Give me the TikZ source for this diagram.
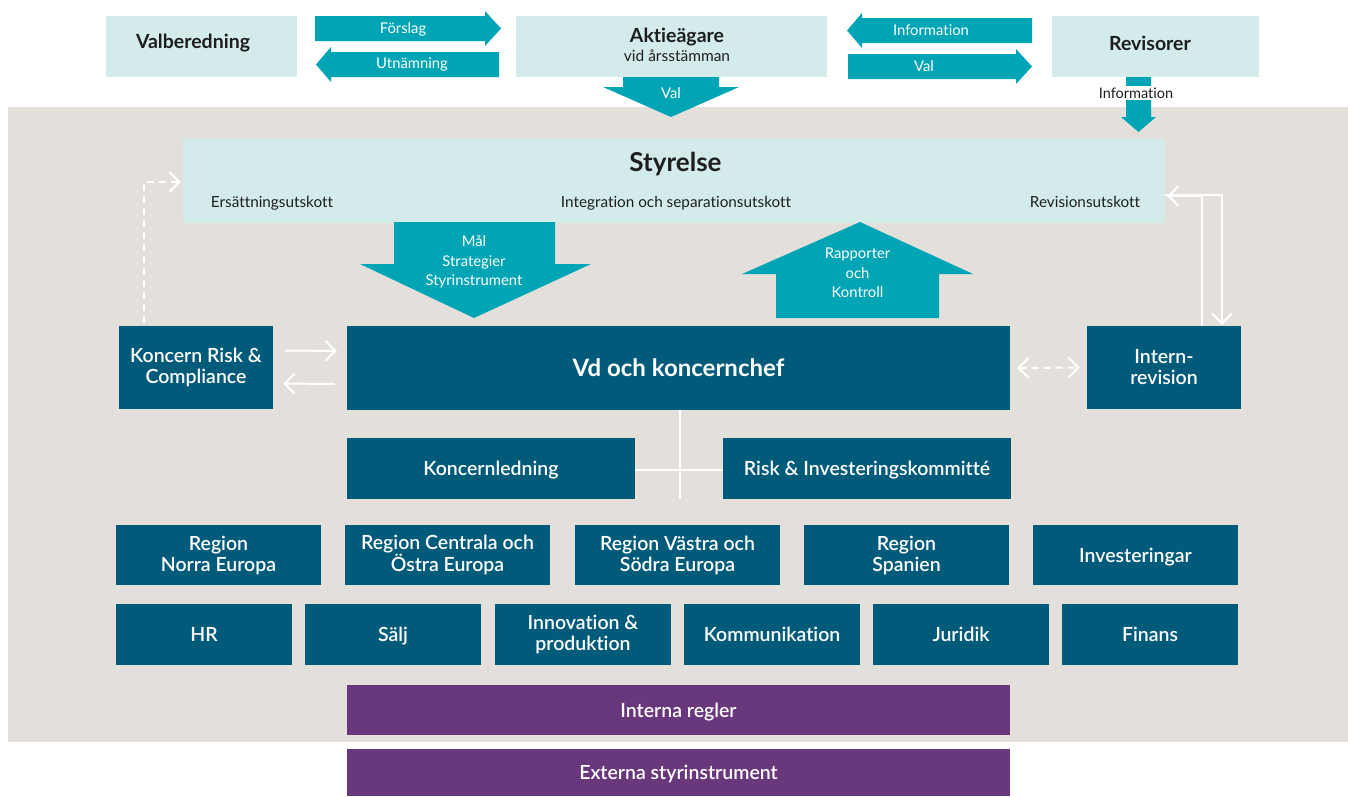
\documentclass[tikz,border=0pt]{standalone}
\usepackage{fontspec}
\setmainfont{Lato}[Ligatures=NoCommon]
\newfontfamily\semib{Lato Semibold}[Ligatures=NoCommon]
\usetikzlibrary{arrows.meta,calc}

\definecolor{paleteal}{HTML}{D4EBEC}
\definecolor{arrowteal}{HTML}{00A5B5}
\definecolor{deepblue}{HTML}{005B7B}
\definecolor{plum}{HTML}{69387C}
\definecolor{stone}{HTML}{E3E0DC}
\definecolor{ink}{HTML}{1E1E1E}

\begin{document}
\begin{tikzpicture}[x=1pt,y=-1pt,
  sz/.style 2 args={minimum width=#1pt, minimum height=#2pt},
  palebox/.style={fill=paleteal, inner sep=0pt},
  darkbox/.style={fill=deepblue, inner sep=0pt, text=white, align=center,
    font=\semib\fontsize{19.5}{21}\selectfont},
  plumbox/.style={fill=plum, inner sep=0pt, text=white,
    font=\semib\fontsize{19.5}{21}\selectfont, text height=14pt, text depth=0pt},
  capline/.style={text height=14pt, text depth=0pt},
  headtext/.style={text=ink, anchor=base, font=\bfseries\fontsize{19.5}{22}\selectfont},
  subtext/.style={text=ink, anchor=base, font=\fontsize{15.3}{18}\selectfont},
  arrowtext/.style={text=white, align=center, inner sep=0pt,
    font=\fontsize{14.8}{19.5}\selectfont},
  blockarrow/.style={fill=arrowteal},
  wline/.style={draw=white, line width=2pt},
  wtip/.style={-{Straight Barb[length=10pt,width=20pt]}},
  wboth/.style={{Straight Barb[length=10pt,width=20pt]}-{Straight Barb[length=10pt,width=20pt]}},
  dashpat/.style={dash pattern=on 7pt off 5pt}]

\useasboundingbox (0,0) rectangle (1348,796);

% organisation background
\fill[stone] (8,107) rectangle (1348,742);

% ---------- owners and their partners ----------
\node[palebox, sz={191}{61}] (valb) at (201.5,46.5) {};
\node[headtext] (valbT) at (193,48) {Valberedning};
\node[palebox, sz={311}{61}] (akt) at (671.5,46.5) {};
\node[headtext] (aktT) at (677,42) {Aktieägare};
\node[subtext, font=\fontsize{15.5}{18}\selectfont] (aktS) at (677,61) {vid årsstämman};
\node[palebox, sz={207}{61}] (rev) at (1155.5,46.5) {};
\node[headtext] (revT) at (1150,50) {Revisorer};

% proposals and appointments
\fill[blockarrow] (315,16) -- (485,16) -- (485,11) -- (501,28.5) -- (485,46) -- (485,41) -- (315,41) -- cycle;
\node[arrowtext] (forslag) at (403,29) {Förslag};
\fill[blockarrow] (499,52) -- (331,52) -- (331,47) -- (316,64.5) -- (331,82) -- (331,77) -- (499,77) -- cycle;
\node[arrowtext] (utn) at (412,64.5) {Utnämning};

% auditors
\fill[blockarrow] (1032,18) -- (862,18) -- (862,13) -- (847,30.5) -- (862,48) -- (862,43) -- (1032,43) -- cycle;
\node[arrowtext] (infoL) at (931,30.5) {Information};
\fill[blockarrow] (848,54) -- (1016,54) -- (1016,49) -- (1032,66.5) -- (1016,84) -- (1016,79) -- (848,79) -- cycle;
\node[arrowtext] (valR) at (924,66.5) {Val};

% election of the board
\fill[blockarrow] (623,77) -- (719,77) -- (719,87) -- (739,87) -- (671,117) -- (603,87) -- (623,87) -- cycle;
\node[arrowtext] (valD) at (671,93.5) {Val};

% information from the auditors
\fill[blockarrow] (1126,77) -- (1151,77) -- (1151,117) -- (1156,117) -- (1138.5,132) -- (1121,117) -- (1126,117) -- cycle;
\node[fill=white, text=ink, inner xsep=1pt, inner ysep=2pt, text height=10pt, text depth=0pt,
  font=\fontsize{14.5}{17}\selectfont] (infoD) at (1136,93) {Information};

% ---------- board ----------
\node[palebox, sz={982}{84}] (sty) at (674,181) {};
\node[text=ink, anchor=base, font=\bfseries\fontsize{26}{30}\selectfont] (styT) at (675.5,171) {Styrelse};
\node[subtext] (ers) at (272,207) {Ersättningsutskott};
\node[subtext] (integ) at (676,207) {Integration och separationsutskott};
\node[subtext] (revu) at (1085,207) {Revisionsutskott};

% goals down, reports up
\fill[blockarrow] (394,222) -- (555,222) -- (555,264) -- (591,264) -- (474,318) -- (360,264) -- (394,264) -- cycle;
\node[arrowtext] (mal) at (474,262) {Mål\\Strategier\\Styrinstrument};
\fill[blockarrow] (776,318) -- (939,318) -- (939,274) -- (973,274) -- (860,222) -- (742,274) -- (776,274) -- cycle;
\node[arrowtext] (rapp) at (857.5,273) {Rapporter\\och\\Kontroll};

% ---------- management ----------
\node[darkbox, sz={663}{84}, font=\bfseries\fontsize{24}{28}\selectfont, text height=17pt, text depth=0pt] (vd) at (678.5,368) {Vd och koncernchef};
\node[darkbox, sz={154}{83}] (kr) at (196,367.5) {Koncern Risk \&\\Compliance};
\node[darkbox, sz={154}{83}] (intr) at (1164,367.5) {Intern-\\revision};

\node[darkbox, sz={288}{61}, capline] (kl) at (491,468.5) {Koncernledning};
\node[darkbox, sz={288}{61}, capline] (ri) at (867,468.5) {Risk \& Investeringskommitté};

% regions
\node[darkbox, sz={205}{60}] (r1) at (218.5,555) {Region\\Norra Europa};
\node[darkbox, sz={205}{60}] (r2) at (447.5,555) {Region Centrala och\\Östra Europa};
\node[darkbox, sz={205}{60}] (r3) at (677.5,555) {Region Västra och\\Södra Europa};
\node[darkbox, sz={205}{60}] (r4) at (906.5,555) {Region\\Spanien};
\node[darkbox, sz={205}{60}, capline] (r5) at (1135.5,555) {Investeringar};

% group functions
\node[darkbox, sz={176}{61}, capline] (f1) at (204,634.5) {HR};
\node[darkbox, sz={176}{61}, capline] (f2) at (393,634.5) {Sälj};
\node[darkbox, sz={176}{61}] (f3) at (583,634.5) {Innovation \&\\produktion};
\node[darkbox, sz={176}{61}, capline] (f4) at (772,634.5) {Kommunikation};
\node[darkbox, sz={176}{61}, capline] (f5) at (961,634.5) {Juridik};
\node[darkbox, sz={176}{61}, capline] (f6) at (1150,634.5) {Finans};

% rules
\node[plumbox, sz={663}{50}] (intreg) at (678.5,710) {Interna regler};
\node[plumbox, sz={663}{47}] (extreg) at (678.5,772.5) {Externa styrinstrument};

% ---------- connectors ----------
\draw[wline, wtip] ([shift={(12,-17)}]kr.east) -- ([shift={(-10,-17)}]vd.west);
\draw[wline, wtip] ([shift={(-12,16)}]vd.west) -- ([shift={(10,16)}]kr.east);
\draw[wline, dashpat, wtip] ([shift={(-52,-3)}]kr.north) |- ([shift={(-2,1)}]sty.west);
\draw[wline, dashpat, wboth] ([xshift=7]vd.east) -- ([xshift=-7]intr.west);
\draw[wline, wtip] ([yshift=-14]sty.east) -| ([shift={(58,-1)}]intr.north);
\draw[wline, wtip] ([xshift=38]intr.north) |- ([shift={(2,15)}]sty.east);

\coordinate (stem) at ([xshift=1.5]vd.south);
\draw[wline] (stem) -- (stem |- kl.south);
\draw[wline] ([yshift=-1.5]kl.east) -- ([yshift=-1.5]ri.west);

\end{tikzpicture}
\end{document}
